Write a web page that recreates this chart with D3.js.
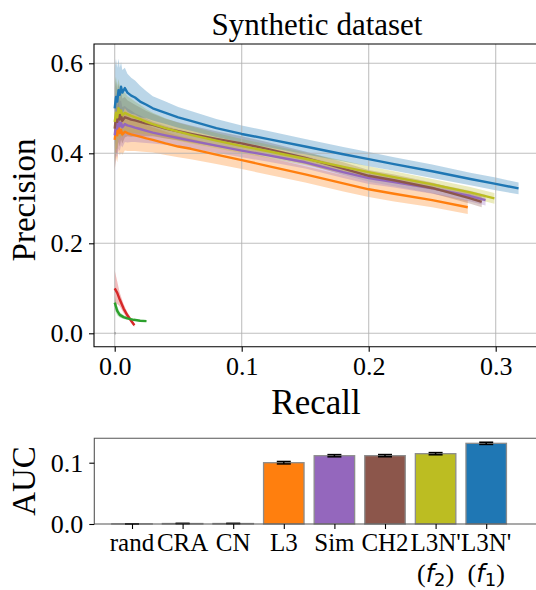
<!DOCTYPE html>
<html lang="en">
  <head>
    <meta charset="UTF-8" />
    <title>Synthetic dataset</title>
    <script src="https://d3js.org/d3.v7.min.js"></script>
    <style>
      body { margin: 0; background: #fff; }
      svg text { font-family: "Liberation Serif", "DejaVu Serif", serif; fill: #000; }
    </style>
  </head>
  <body>
    <div id="chart"></div>
    <script>
      // precision-recall curves: recall, mean precision, half width of the shaded band
      const recallGrid = [0,0.001,0.002,0.003,0.004,0.005,0.006,0.008,0.01,0.013,0.016,0.02,0.025,0.03,0.04,0.05,0.06,0.08,0.1,0.12,0.15,0.18,0.2,0.22,0.25];

      const recallF1 = [...recallGrid, 0.28, 0.3, 0.318];
      const precF1 = [0.50,0.525,0.515,0.54,0.53,0.548,0.535,0.545,0.535,0.528,0.524,0.515,0.508,0.50,0.49,0.48,0.472,0.456,0.443,0.432,0.415,0.398,0.387,0.376,0.36,0.343,0.332,0.322];
      const bandF1 = [0.09,0.085,0.075,0.07,0.06,0.055,0.05,0.045,0.042,0.04,0.038,0.035,0.03,0.027,0.025,0.023,0.022,0.02,0.019,0.018,0.017,0.016,0.016,0.015,0.015,0.014,0.014,0.013];

      const recallF2 = [...recallGrid, 0.28, 0.299];
      const precF2 = [0.47,0.49,0.48,0.50,0.49,0.495,0.485,0.49,0.487,0.483,0.48,0.476,0.47,0.465,0.456,0.448,0.441,0.428,0.416,0.405,0.388,0.37,0.358,0.347,0.331,0.313,0.30];
      const bandF2 = [0.09,0.08,0.07,0.065,0.06,0.055,0.05,0.045,0.04,0.038,0.035,0.032,0.028,0.025,0.022,0.02,0.019,0.017,0.016,0.015,0.014,0.014,0.013,0.013,0.012,0.012,0.012];

      const recallCH2 = [...recallGrid, 0.28, 0.289];
      const precCH2 = [0.455,0.48,0.47,0.49,0.475,0.485,0.472,0.48,0.478,0.475,0.473,0.47,0.466,0.463,0.455,0.449,0.443,0.432,0.422,0.41,0.39,0.366,0.35,0.34,0.323,0.30,0.292];
      const bandCH2 = [0.09,0.08,0.07,0.065,0.06,0.055,0.05,0.045,0.04,0.038,0.035,0.032,0.028,0.025,0.022,0.02,0.019,0.017,0.016,0.015,0.014,0.014,0.013,0.013,0.012,0.012,0.012];

      const recallSim = [...recallGrid, 0.28, 0.292];
      const precSim = [0.44,0.465,0.455,0.47,0.46,0.468,0.458,0.465,0.462,0.46,0.457,0.454,0.45,0.446,0.44,0.434,0.428,0.417,0.406,0.396,0.38,0.358,0.345,0.336,0.322,0.305,0.296];
      const bandSim = [0.08,0.07,0.065,0.06,0.055,0.05,0.045,0.04,0.038,0.035,0.032,0.03,0.027,0.024,0.021,0.019,0.018,0.016,0.015,0.014,0.014,0.013,0.013,0.012,0.012,0.012,0.012];

      const recallL3 = [...recallGrid, 0.278];
      const precL3 = [0.43,0.455,0.44,0.46,0.445,0.452,0.442,0.448,0.445,0.442,0.44,0.437,0.433,0.43,0.422,0.415,0.41,0.397,0.385,0.372,0.353,0.333,0.32,0.31,0.296,0.28];
      const bandL3 = [0.07,0.065,0.06,0.055,0.05,0.05,0.045,0.042,0.04,0.037,0.035,0.033,0.03,0.028,0.026,0.024,0.023,0.021,0.02,0.019,0.018,0.018,0.017,0.017,0.016,0.015];

      const recallCRA = [0,0.002,0.004,0.007,0.01,0.013,0.0155];
      const precCRA = [0.10,0.09,0.075,0.055,0.04,0.028,0.018];
      const bandCRA = [0.04,0.025,0.015,0.01,0.007,0.005,0.004];

      const recallCN = [0,0.002,0.004,0.007,0.01,0.015,0.02,0.025];
      const precCN = [0.068,0.05,0.041,0.036,0.033,0.03,0.028,0.027];
      const bandCN = [0.015,0.01,0.006,0.004,0.003,0.002,0.002,0.002];

      const recallRand = [0,0.0006];
      const precRand = [0,0];
      const bandRand = [0,0];

      // bar chart
      const methods = ["rand", "CRA", "CN", "L3", "Sim", "CH2", "L3N'(f2)", "L3N'(f1)"];
      const aucValues = [0.0002, 0.0008, 0.0008, 0.100, 0.1114, 0.1115, 0.1147, 0.1316];
      const aucErrors = [0, 0, 0, 0.002, 0.0018, 0.0018, 0.0018, 0.0018];
      const methodColors = ["#7f7f7f", "#d62728", "#2ca02c", "#ff7f0e", "#9467bd", "#8c564b", "#bcbd22", "#1f77b4"];

      const curves = [
        { name: "rand", r: recallRand, p: precRand, s: bandRand },
        { name: "CRA", r: recallCRA, p: precCRA, s: bandCRA },
        { name: "CN", r: recallCN, p: precCN, s: bandCN },
        { name: "L3", r: recallL3, p: precL3, s: bandL3 },
        { name: "Sim", r: recallSim, p: precSim, s: bandSim },
        { name: "CH2", r: recallCH2, p: precCH2, s: bandCH2 },
        { name: "L3N'(f2)", r: recallF2, p: precF2, s: bandF2 },
        { name: "L3N'(f1)", r: recallF1, p: precF1, s: bandF1 },
      ].map((c) => ({
        ...c,
        color: methodColors[methods.indexOf(c.name)],
        pts: c.r.map((r, i) => ({ r, p: c.p[i], s: c.s[i] })),
      }));

      const svg = d3.select("#chart").append("svg")
        .attr("width", 536).attr("height", 590);

      // ---- top panel ----
      const topBox = { left: 94, right: 545, top: 44, bottom: 346.7 };
      const x = d3.scaleLinear().domain([0, 0.3]).range([114.7, 495.7]);
      const y = d3.scaleLinear().domain([0, 0.6]).range([333.3, 63.3]);

      svg.append("clipPath").attr("id", "clipTop")
        .append("rect").attr("x", topBox.left).attr("y", topBox.top)
        .attr("width", topBox.right - topBox.left).attr("height", topBox.bottom - topBox.top);

      const plot = svg.append("g").attr("clip-path", "url(#clipTop)");

      const area = d3.area()
        .x((d) => x(d.r)).y0((d) => y(d.p - d.s)).y1((d) => y(d.p + d.s));
      const line = d3.line().x((d) => x(d.r)).y((d) => y(d.p));

      curves.forEach((c) => {
        plot.append("path").datum(c.pts)
          .attr("fill", c.color).attr("fill-opacity", 0.3)
          .attr("d", area);
      });

      const xTicks = [0, 0.1, 0.2, 0.3];
      const yTicks = [0, 0.2, 0.4, 0.6];
      plot.selectAll("line.gx").data(xTicks).enter().append("line")
        .attr("x1", (d) => x(d)).attr("x2", (d) => x(d))
        .attr("y1", topBox.top).attr("y2", topBox.bottom)
        .attr("stroke", "#b0b0b0").attr("stroke-width", 1.1).attr("stroke-opacity", 0.8);
      plot.selectAll("line.gy").data(yTicks).enter().append("line")
        .attr("x1", topBox.left).attr("x2", topBox.right)
        .attr("y1", (d) => y(d)).attr("y2", (d) => y(d))
        .attr("stroke", "#b0b0b0").attr("stroke-width", 1.1).attr("stroke-opacity", 0.8);

      curves.forEach((c) => {
        plot.append("path").datum(c.pts)
          .attr("fill", "none").attr("stroke", c.color)
          .attr("stroke-width", 2.4).attr("stroke-linejoin", "round")
          .attr("d", line);
      });

      // axes
      const xAxis = svg.append("g").attr("transform", `translate(0,${topBox.bottom})`)
        .call(d3.axisBottom(x).tickValues(xTicks).tickFormat(d3.format(".1f")).tickSize(5).tickSizeOuter(0));
      const yAxis = svg.append("g").attr("transform", `translate(${topBox.left},0)`)
        .call(d3.axisLeft(y).tickValues(yTicks).tickFormat(d3.format(".1f")).tickSize(5).tickSizeOuter(0));
      [xAxis, yAxis].forEach((g) => {
        g.attr("font-family", "Liberation Serif").attr("font-size", 26);
        g.select(".domain").remove();
        g.selectAll("line").attr("stroke", "#000").attr("stroke-width", 1.1);
      });
      xAxis.selectAll("text").attr("y", 9).attr("dy", "0.75em");
      yAxis.selectAll("text").attr("x", -11);

      svg.append("path")
        .attr("d", `M${topBox.right},${topBox.top}H${topBox.left}V${topBox.bottom}H${topBox.right}`)
        .attr("fill", "none").attr("stroke", "#000").attr("stroke-width", 1.1);

      svg.append("text").attr("x", 317).attr("y", 35).attr("text-anchor", "middle")
        .style("font-size", "31px").text("Synthetic dataset");
      svg.append("text").attr("x", 316).attr("y", 414).attr("text-anchor", "middle")
        .style("font-size", "35px").text("Recall");
      svg.append("text").attr("transform", "translate(35,200) rotate(-90)")
        .attr("text-anchor", "middle").style("font-size", "33px").text("Precision");

      // ---- bottom panel ----
      const botBox = { left: 94.3, right: 545, top: 438.3, bottom: 524 };
      const xb = d3.scalePoint().domain(methods).range([132, 486.2]);
      const barW = 0.8 * xb.step();
      const yb = d3.scaleLinear().domain([0, 0.1]).range([524, 462.7]);

      svg.selectAll("rect.bar").data(methods).enter().append("rect")
        .attr("x", (d) => xb(d) - barW / 2)
        .attr("y", (d, i) => yb(aucValues[i]))
        .attr("width", barW)
        .attr("height", (d, i) => yb(0) - yb(aucValues[i]))
        .attr("fill", (d, i) => methodColors[i])
        .attr("stroke", "#8c8c8c").attr("stroke-width", 1.3);

      const errG = svg.append("g").attr("stroke", "#000").attr("stroke-width", 1.5);
      methods.forEach((m, i) => {
        const cx = xb(m);
        const lo = yb(aucValues[i] - aucErrors[i]);
        const hi = yb(aucValues[i] + aucErrors[i]);
        errG.append("line").attr("x1", cx).attr("x2", cx).attr("y1", lo).attr("y2", hi);
        errG.append("line").attr("x1", cx - 7).attr("x2", cx + 7).attr("y1", lo).attr("y2", lo);
        errG.append("line").attr("x1", cx - 7).attr("x2", cx + 7).attr("y1", hi).attr("y2", hi);
      });

      svg.append("path")
        .attr("d", `M${botBox.right},${botBox.top}H${botBox.left}V${botBox.bottom}H${botBox.right}`)
        .attr("fill", "none").attr("stroke", "#555").attr("stroke-width", 1.1);

      const ybAxis = svg.append("g").attr("transform", `translate(${botBox.left},0)`)
        .call(d3.axisLeft(yb).tickValues([0, 0.1]).tickFormat(d3.format(".1f")).tickSize(5).tickSizeOuter(0));
      ybAxis.attr("font-family", "Liberation Serif").attr("font-size", 26);
      ybAxis.select(".domain").remove();
      ybAxis.selectAll("line").attr("stroke", "#000").attr("stroke-width", 1.1);
      ybAxis.selectAll("text").attr("x", -11);

      const xbAxis = svg.append("g").attr("transform", `translate(0,${botBox.bottom})`)
        .call(d3.axisBottom(xb).tickSize(5).tickSizeOuter(0).tickFormat(""));
      xbAxis.select(".domain").remove();
      xbAxis.selectAll("line").attr("stroke", "#000").attr("stroke-width", 1.1);

      // category labels, with a second line for the L3N' variants
      const labG = svg.append("g");
      methods.forEach((m) => {
        const parts = m.match(/^(.*?)(\((f\d)\))?$/);
        labG.append("text").attr("x", xb(m)).attr("y", 551)
          .attr("text-anchor", "middle").style("font-size", "25px").text(parts[1]);
        if (parts[3]) {
          const t = labG.append("text").attr("x", xb(m)).attr("y", 582)
            .attr("text-anchor", "middle").style("font-size", "26px");
          t.append("tspan").text("(");
          t.append("tspan").style("font-family", "DejaVu Sans").style("font-style", "italic")
            .style("font-size", "24px").text("f");
          t.append("tspan").style("font-family", "DejaVu Sans").style("font-size", "18px")
            .attr("dy", 4).text(parts[3].slice(1));
          t.append("tspan").attr("dy", -4).text(")");
        }
      });

      svg.append("text").attr("transform", "translate(35,481) rotate(-90)")
        .attr("text-anchor", "middle").style("font-size", "33px").text("AUC");
    </script>
  </body>
</html>
